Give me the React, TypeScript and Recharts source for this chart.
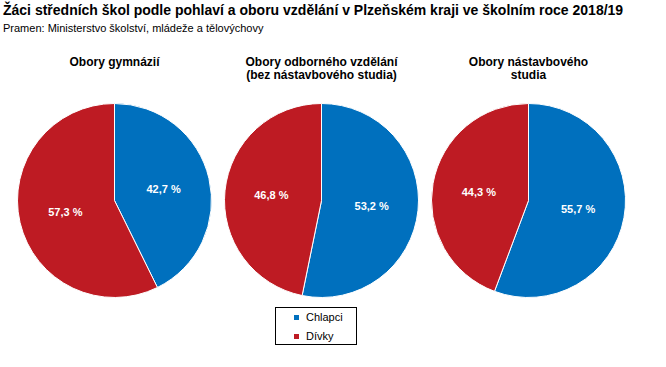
import { PieChart, Pie, Cell, Legend } from "recharts";

const seriesNames = ["Chlapci", "Dívky"];
const categoryTitles = [
  ["Obory gymnázií"],
  ["Obory odborného vzdělání", "(bez nástavbového studia)"],
  ["Obory nástavbového", "studia"],
];
const chlapci = [42.7, 53.2, 55.7];
const divky = [57.3, 46.8, 44.3];

const COLORS = ["#0070BE", "#BE1B23"];
const FONT = "'Liberation Sans', Arial, sans-serif";
const RADIAN = Math.PI / 180;

const pieCx = [114.5, 321.5, 528.5];
const pieCy = 200.5;
const pieR = 97;

const fmt = (v: number) => v.toFixed(1).replace(".", ",") + " %";

const renderLabel = (props: any) => {
  const { cx, cy, midAngle, outerRadius, value } = props;
  const r = outerRadius * 0.52;
  const x = cx + r * Math.cos(-midAngle * RADIAN);
  const y = cy + r * Math.sin(-midAngle * RADIAN);
  return (
    <text
      x={x}
      y={y}
      fill="#fff"
      textAnchor="middle"
      dominantBaseline="central"
      fontSize={11}
      fontWeight="bold"
      fontFamily={FONT}
    >
      {fmt(value)}
    </text>
  );
};

const LegendBox = () => (
  <div
    style={{
      width: 80,
      height: 36,
      border: "1px solid #000",
      fontFamily: FONT,
      fontSize: 11,
      color: "#000",
      position: "relative",
      background: "#fff",
    }}
  >
    {seriesNames.map((name, i) => (
      <div
        key={name}
        style={{ position: "absolute", left: 18, top: 2 + i * 19, height: 14, display: "flex", alignItems: "center" }}
      >
        <span style={{ width: 5, height: 5, background: COLORS[i], display: "inline-block", marginRight: 7 }} />
        <span>{name}</span>
      </div>
    ))}
  </div>
);

export default function App() {
  return (
    <div style={{ position: "absolute", left: 0, top: 0, width: 666, height: 367, background: "#fff", fontFamily: FONT }}>
      <div style={{ position: "absolute", left: 3, top: 2, fontSize: 14, fontWeight: "bold", color: "#000", whiteSpace: "nowrap" }}>
        Žáci středních škol podle pohlaví a oboru vzdělání v Plzeňském kraji ve školním roce 2018/19
      </div>
      <div style={{ position: "absolute", left: 3, top: 22, fontSize: 11, color: "#000", whiteSpace: "nowrap" }}>
        Pramen: Ministerstvo školství, mládeže a tělovýchovy
      </div>
      {categoryTitles.map((lines, i) => (
        <div
          key={i}
          style={{
            position: "absolute",
            left: pieCx[i] - 100,
            width: 200,
            top: 56,
            textAlign: "center",
            fontSize: 12,
            fontWeight: "bold",
            lineHeight: "13px",
            color: "#000",
          }}
        >
          {lines.map((l) => (
            <div key={l}>{l}</div>
          ))}
        </div>
      ))}
      <div style={{ position: "absolute", left: 0, top: 0 }}>
        <PieChart width={666} height={367} margin={{ top: 0, right: 0, bottom: 0, left: 0 }}>
          {categoryTitles.map((_, i) => {
            const data = [
              { name: seriesNames[0], value: chlapci[i] },
              { name: seriesNames[1], value: divky[i] },
            ];
            return (
              <Pie
                key={i}
                data={data}
                dataKey="value"
                nameKey="name"
                cx={pieCx[i]}
                cy={pieCy}
                outerRadius={pieR}
                startAngle={90}
                endAngle={-270}
                stroke="#fff"
                strokeWidth={1}
                label={renderLabel}
                labelLine={false}
                isAnimationActive={false}
              >
                {data.map((d, j) => (
                  <Cell key={d.name} fill={COLORS[j]} />
                ))}
              </Pie>
            );
          })}
          <Legend
            content={() => <LegendBox />}
            wrapperStyle={{ position: "absolute", left: 275, top: 307, width: 82, height: 38 }}
          />
        </PieChart>
      </div>
    </div>
  );
}
